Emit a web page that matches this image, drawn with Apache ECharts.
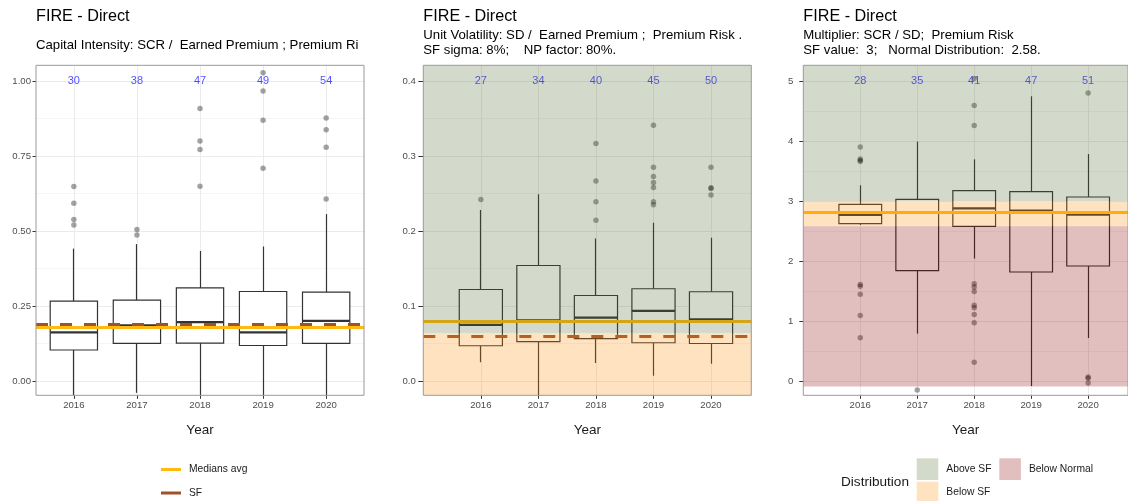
<!DOCTYPE html>
<html>
<head>
<meta charset="utf-8">
<script src="https://cdn.jsdelivr.net/npm/echarts@6/dist/echarts.min.js"></script>
<style>
  html, body { margin: 0; padding: 0; background: #ffffff; }
  #chart { width: 1128px; height: 501px; }
</style>
</head>
<body>
<div id="chart"></div>
<script>
// ---- shared categories ----
const YEARS = ['2016', '2017', '2018', '2019', '2020'];
const X_POS = [1, 2, 3, 4, 5];

// ---- Capital Intensity: SCR / Earned Premium ----
const CI_LOW  = [-0.05, -0.040, -0.05, -0.05, -0.05];
const CI_Q1   = [0.103, 0.125, 0.126, 0.118, 0.125];
const CI_MED  = [0.162, 0.185, 0.196, 0.162, 0.200];
const CI_Q3   = [0.266, 0.269, 0.310, 0.298, 0.296];
const CI_HIGH = [0.441, 0.456, 0.433, 0.448, 0.556];
const CI_OUTLIERS = [
  [0.648, 0.592, 0.538, 0.520],
  [0.505, 0.486],
  [0.908, 0.800, 0.771, 0.649],
  [1.027, 0.966, 0.869, 0.709],
  [0.876, 0.837, 0.779, 0.606]
];
const CI_COUNTS = [30, 38, 47, 49, 54];
const CI_MEDIANS_AVG = 0.181;
const CI_SF = 0.192;
const CI_TICKS = [0, 0.25, 0.5, 0.75, 1.0];
const CI_MINOR = [0.125, 0.375, 0.625, 0.875];

// ---- Unit Volatility: SD / Earned Premium ----
const UV_LOW  = [0.025, -0.030, 0.024, 0.007, 0.023];
const UV_Q1   = [0.047, 0.0525, 0.0565, 0.051, 0.050];
const UV_MED  = [0.0747, 0.081, 0.0845, 0.0935, 0.0823];
const UV_Q3   = [0.122, 0.154, 0.114, 0.123, 0.119];
const UV_HIGH = [0.228, 0.249, 0.190, 0.211, 0.191];
const UV_OUTLIERS = [
  [0.242],
  [],
  [0.3165, 0.2667, 0.239, 0.2143],
  [0.341, 0.285, 0.2725, 0.2645, 0.258, 0.239, 0.235],
  [0.285, 0.2575, 0.2565, 0.248]
];
const UV_COUNTS = [27, 34, 40, 45, 50];
const UV_MEDIANS_AVG = 0.078;
const UV_SF = 0.064;
const UV_TICKS = [0, 0.1, 0.2, 0.3, 0.4];
const UV_MINOR = [0.05, 0.15, 0.25, 0.35];

// ---- Multiplier: SCR / SD ----
const MU_LOW  = [2.60, 0.79, 2.04, -0.083, 0.717];
const MU_Q1   = [2.623, 1.84, 2.578, 1.817, 1.917];
const MU_MED  = [2.767, 2.80, 2.878, 2.84, 2.773];
const MU_Q3   = [2.945, 3.028, 3.173, 3.157, 3.067];
const MU_HIGH = [3.262, 3.99, 3.695, 4.745, 3.783];
const MU_OUTLIERS = [
  [3.90, 3.70, 3.68, 3.657, 1.607, 1.578, 1.445, 1.09, 0.723],
  [-0.15],
  [5.04, 4.59, 4.257, 1.623, 1.567, 1.49, 1.262, 1.223, 1.107, 0.973, 0.312],
  [],
  [4.80, 0.067, 0.045, -0.033]
];
const MU_COUNTS = [28, 35, 41, 47, 51];
const MU_MEDIANS_AVG = 2.807;
const MU_SF = 3;
const MU_NORMAL = 2.58;
const MU_BAND_FLOOR = -0.09;
const MU_TICKS = [0, 1, 2, 3, 4, 5];
const MU_MINOR = [0.5, 1.5, 2.5, 3.5, 4.5];

// ---- styling ----
const FONT = '"Liberation Sans", Arial, Helvetica, sans-serif';
const MED_COLOR = '#FFB90F';
const SF_COLOR = '#A0522D';
const GREEN = 'rgba(85,107,47,0.25)';
const ORANGE = 'rgba(255,140,0,0.25)';
const PINK = 'rgba(139,0,0,0.25)';
const STROKE = '#333333';
const BOX_WIDTH = 0.75;
const PANEL_TOP = 65.3;
const PANEL_H = 330;
const PANEL_W = 328;

// box + whiskers + thick median for one year
function renderBox(params, api) {
  const cs = params.coordSys;
  const clampY = y => Math.max(cs.y, Math.min(cs.y + cs.height, y));
  const x = api.value(0);
  const rawX = api.coord([x, api.value(3)])[0];
  const px = Math.round(rawX - 0.5) + 0.5;   // crisp 1px whisker
  const yAt = i => clampY(api.coord([x, api.value(i)])[1]);
  const yLo = yAt(1), yQ1 = yAt(2), yMed = yAt(3), yQ3 = yAt(4), yHi = yAt(5);
  const half = api.size([BOX_WIDTH, 0])[0] / 2;
  const thin = { stroke: STROKE, lineWidth: 1.2 };
  return {
    type: 'group',
    children: [
      { type: 'line', shape: { x1: px, y1: yHi, x2: px, y2: yQ3 }, style: thin },
      { type: 'line', shape: { x1: px, y1: yQ1, x2: px, y2: yLo }, style: thin },
      { type: 'rect', shape: { x: rawX - half, y: yQ3, width: 2 * half, height: yQ1 - yQ3 },
        style: { fill: '#ffffff', stroke: STROKE, lineWidth: 1.2 } },
      { type: 'line', shape: { x1: rawX - half, y1: yMed, x2: rawX + half, y2: yMed },
        style: { stroke: STROKE, lineWidth: 2.2 } }
    ]
  };
}

const PANELS = [
  {
    left: 36, xMin: 0.4, xMax: 5.6, yMin: -0.048, yMax: 1.052,
    ticks: CI_TICKS, minor: CI_MINOR, fmt: v => v.toFixed(2), tickLen: 3.5, labelMargin: 5,
    low: CI_LOW, q1: CI_Q1, med: CI_MED, q3: CI_Q3, high: CI_HIGH,
    outliers: CI_OUTLIERS, counts: CI_COUNTS, countY: 1.0,
    mediansAvg: CI_MEDIANS_AVG, sf: CI_SF, bands: []
  },
  {
    left: 423.3, xMin: 0, xMax: 5.7, yMin: -0.0191, yMax: 0.4209,
    ticks: UV_TICKS, minor: UV_MINOR, fmt: v => v.toFixed(1), tickLen: 5, labelMargin: 7.5,
    low: UV_LOW, q1: UV_Q1, med: UV_MED, q3: UV_Q3, high: UV_HIGH,
    outliers: UV_OUTLIERS, counts: UV_COUNTS, countY: 0.4,
    mediansAvg: UV_MEDIANS_AVG, sf: UV_SF,
    bands: [
      { name: 'Above SF', color: GREEN, from: UV_SF, to: 0.4209 },
      { name: 'Below SF', color: ORANGE, from: -0.0191, to: UV_SF }
    ]
  },
  {
    left: 803.3, xMin: 0, xMax: 5.7, yMin: -0.238, yMax: 5.262,
    ticks: MU_TICKS, minor: MU_MINOR, fmt: v => String(v), tickLen: 4, labelMargin: 10,
    low: MU_LOW, q1: MU_Q1, med: MU_MED, q3: MU_Q3, high: MU_HIGH,
    outliers: MU_OUTLIERS, counts: MU_COUNTS, countY: 5,
    mediansAvg: MU_MEDIANS_AVG, sf: null,
    bands: [
      { name: 'Above SF', color: GREEN, from: MU_SF, to: 5.262 },
      { name: 'Below SF', color: ORANGE, from: MU_NORMAL, to: MU_SF },
      { name: 'Below Normal', color: PINK, from: MU_BAND_FLOOR, to: MU_NORMAL }
    ]
  }
];

const grids = [], xAxes = [], yAxes = [], series = [];

PANELS.forEach((p, i) => {
  grids.push({
    left: p.left, top: PANEL_TOP, width: PANEL_W, height: PANEL_H,
    show: true, backgroundColor: 'transparent', borderColor: '#9a9a9a', borderWidth: 1, z: 20
  });
  xAxes.push({
    gridIndex: i, type: 'value', min: p.xMin, max: p.xMax, position: 'bottom',
    axisLine: { show: false, onZero: false },
    axisTick: { show: true, length: 3.5, customValues: X_POS, lineStyle: { color: STROKE } },
    axisLabel: {
      customValues: X_POS, formatter: v => YEARS[Math.round(v) - 1],
      color: '#4d4d4d', fontSize: 9.6, fontFamily: FONT, margin: 5
    },
    splitLine: { show: true, lineStyle: { color: '#ebebeb', width: 1 } },
    name: 'Year', nameLocation: 'middle', nameGap: 28,
    nameTextStyle: { fontSize: 13.5, color: '#1a1a1a', fontFamily: FONT }
  });
  yAxes.push({
    gridIndex: i, type: 'value', min: p.yMin, max: p.yMax, position: 'left',
    axisLine: { show: false, onZero: false },
    axisTick: { show: true, length: p.tickLen, customValues: p.ticks, lineStyle: { color: STROKE } },
    axisLabel: {
      customValues: p.ticks, formatter: p.fmt,
      color: '#4d4d4d', fontSize: 9.6, fontFamily: FONT, margin: p.labelMargin
    },
    splitLine: { show: true, lineStyle: { color: '#ebebeb', width: 1 } }
  });
  // second axis carrying the minor grid lines
  yAxes.push({
    gridIndex: i, type: 'value', min: p.yMin, max: p.yMax, position: 'left',
    axisLine: { show: false, onZero: false },
    axisTick: { show: false, customValues: p.minor },
    axisLabel: { show: false, customValues: p.minor },
    splitLine: { show: true, lineStyle: { color: '#f5f5f5', width: 1 } }
  });
  const yIdx = 2 * i;

  series.push({
    type: 'custom', name: 'box' + i, xAxisIndex: i, yAxisIndex: yIdx, z: 2,
    renderItem: renderBox,
    encode: { x: 0, y: [1, 2, 3, 4, 5] },
    data: X_POS.map((x, k) => [x, p.low[k], p.q1[k], p.med[k], p.q3[k], p.high[k]])
  });

  const pts = [];
  p.outliers.forEach((vals, k) => vals.forEach(v => pts.push([X_POS[k], v])));
  series.push({
    type: 'scatter', name: 'outliers' + i, xAxisIndex: i, yAxisIndex: yIdx, z: 3,
    symbolSize: 5.5, itemStyle: { color: 'rgba(0,0,0,0.45)' }, data: pts, silent: true
  });

  series.push({
    type: 'scatter', name: 'n' + i, xAxisIndex: i, yAxisIndex: yIdx, z: 4,
    symbolSize: 1, itemStyle: { color: 'rgba(0,0,0,0)' }, silent: true,
    label: {
      show: true, position: 'inside', formatter: d => String(d.value[2]),
      color: '#1f1fff', fontSize: 11, fontFamily: FONT
    },
    data: X_POS.map((x, k) => [x, p.countY, p.counts[k]])
  });

  if (p.sf !== null) {
    series.push({
      type: 'line', name: 'SF', xAxisIndex: i, yAxisIndex: yIdx, z: 5, data: [],
      itemStyle: { color: SF_COLOR }, lineStyle: { color: SF_COLOR },
      markLine: {
        silent: true, symbol: 'none', label: { show: false }, z: 5,
        lineStyle: { color: SF_COLOR, width: 3, type: [12, 12] },
        data: [{ yAxis: p.sf }]
      }
    });
  }
  series.push({
    type: 'line', name: 'Medians avg', xAxisIndex: i, yAxisIndex: yIdx, z: 5, data: [],
    itemStyle: { color: MED_COLOR }, lineStyle: { color: MED_COLOR },
    markLine: {
      silent: true, symbol: 'none', label: { show: false }, z: 6,
      lineStyle: { color: MED_COLOR, width: 3, type: 'solid' },
      data: [{ yAxis: p.mediansAvg }]
    }
  });

  // translucent distribution bands laid over everything in the panel
  p.bands.forEach(b => {
    series.push({
      type: 'line', name: b.name, xAxisIndex: i, yAxisIndex: yIdx, z: 10, data: [],
      itemStyle: { color: b.color },
      markArea: {
        silent: true, z: 10, itemStyle: { color: b.color },
        data: [[{ yAxis: b.from }, { yAxis: b.to }]]
      }
    });
  });
});

const titleStyle = (size, extra) => Object.assign(
  { fontSize: size, fontWeight: 'normal', color: '#000000', fontFamily: FONT }, extra || {});

const legendText = { fontSize: 10.3, color: '#1a1a1a', fontFamily: FONT, padding: [0, 0, 0, 3] };

const option = {
  backgroundColor: '#ffffff',
  animation: false,
  title: [
    { text: 'FIRE - Direct', left: 36, top: 8.5, padding: 0, textStyle: titleStyle(16.2) },
    { text: 'Capital Intensity: SCR /  Earned Premium ; Premium Risk', left: 36, top: 38.5, padding: 0,
      textStyle: titleStyle(13.2, { width: 328, overflow: 'truncate', ellipsis: '' }) },
    { text: 'FIRE - Direct', left: 423.3, top: 8.5, padding: 0, textStyle: titleStyle(16.2) },
    { text: 'Unit Volatility: SD /  Earned Premium ;  Premium Risk .\nSF sigma: 8%;    NP factor: 80%.',
      left: 423.3, top: 28.3, padding: 0, textStyle: titleStyle(13.2, { lineHeight: 15 }) },
    { text: 'FIRE - Direct', left: 803.3, top: 8.5, padding: 0, textStyle: titleStyle(16.2) },
    { text: 'Multiplier: SCR / SD;  Premium Risk\nSF value:  3;   Normal Distribution:  2.58.',
      left: 803.3, top: 28.3, padding: 0, textStyle: titleStyle(13.2, { lineHeight: 15 }) },
    { text: 'Distribution', left: 841, top: 474.9, padding: 0, textStyle: titleStyle(13.6, { color: '#1a1a1a' }) }
  ],
  legend: [
    {
      left: 161, top: 464.5, height: 80, orient: 'vertical', padding: 0, icon: 'rect',
      itemWidth: 20, itemHeight: 3, itemGap: 13.5, selectedMode: false,
      textStyle: legendText,
      data: [
        { name: 'Medians avg', itemStyle: { color: MED_COLOR } },
        { name: 'SF', itemStyle: { color: SF_COLOR } }
      ]
    },
    {
      left: 916.7, top: 458.3, height: 80, orient: 'vertical', padding: 0, icon: 'rect',
      itemWidth: 21.6, itemHeight: 21.7, itemGap: 1.7, selectedMode: false,
      textStyle: legendText,
      data: [
        { name: 'Above SF', itemStyle: { color: GREEN } },
        { name: 'Below SF', itemStyle: { color: ORANGE } }
      ]
    },
    {
      left: 999.3, top: 458.3, height: 80, orient: 'vertical', padding: 0, icon: 'rect',
      itemWidth: 21.6, itemHeight: 21.7, selectedMode: false,
      textStyle: legendText,
      data: [{ name: 'Below Normal', itemStyle: { color: PINK } }]
    }
  ],
  grid: grids,
  xAxis: xAxes,
  yAxis: yAxes,
  series: series
};

const chart = echarts.init(document.getElementById('chart'), null, { renderer: 'canvas' });
chart.setOption(option);
</script>
</body>
</html>
